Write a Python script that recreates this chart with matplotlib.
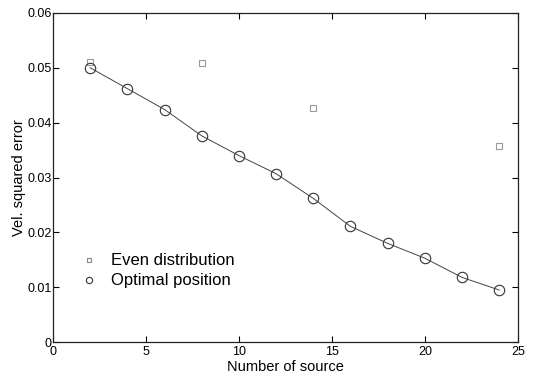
import matplotlib
matplotlib.use("Agg")
import matplotlib.pyplot as plt

plt.rcParams['font.family'] = ['Liberation Sans', 'DejaVu Sans']

n_even = [2, 8, 14, 24]
err_even = [0.0511, 0.0509, 0.0427, 0.0358]
n_opt = [2, 4, 6, 8, 10, 12, 14, 16, 18, 20, 22, 24]
err_opt = [0.0500, 0.0462, 0.0424, 0.0376, 0.0340, 0.0307, 0.0262, 0.0211, 0.0180, 0.0153, 0.0118, 0.0095]

xticks = [0, 5, 10, 15, 20, 25]
yticks = [0, 0.01, 0.02, 0.03, 0.04, 0.05, 0.06]
yticklabels = ['0', '0.01', '0.02', '0.03', '0.04', '0.05', '0.06']

fig = plt.figure(figsize=(5.36, 3.81), dpi=100)
ax = fig.add_axes([0.099, 0.102, 0.867, 0.864])

ax.plot(n_even, err_even, linestyle='none', marker='s', markersize=5,
        markerfacecolor='none', markeredgecolor='#999999', markeredgewidth=0.8)
ax.plot(n_opt, err_opt, color='#444444', linewidth=0.7, marker='o', markersize=7.5,
        markerfacecolor='none', markeredgecolor='#333333', markeredgewidth=0.8)

# legend proxies (markers only, as in the original)
ax.plot([], [], linestyle='none', marker='s', markersize=3.5, markerfacecolor='none',
        markeredgecolor='#888888', markeredgewidth=0.8, label='Even distribution')
ax.plot([], [], linestyle='none', marker='o', markersize=4.5, markerfacecolor='none',
        markeredgecolor='#333333', markeredgewidth=0.8, label='Optimal position')

ax.set_xlim(0, 25)
ax.set_ylim(0, 0.06)
ax.set_xticks(xticks)
ax.set_xticklabels([str(t) for t in xticks])
ax.set_yticks(yticks)
ax.set_yticklabels(yticklabels)
ax.tick_params(direction='in', top=True, right=True, labelsize=9, length=4, width=0.8)
ax.tick_params(axis='y', pad=1)
ax.tick_params(axis='x', pad=3)
for s in ax.spines.values():
    s.set_linewidth(0.9)
    s.set_color('#222222')

ax.set_xlabel('Number of source', fontsize=10.5, labelpad=1)
ax.set_ylabel('Vel. squared error', fontsize=10.5, labelpad=1)

handles, labels = ax.get_legend_handles_labels()
ax.legend(handles, labels, loc='upper left', bbox_to_anchor=(0.045, 0.29), frameon=False,
          fontsize=12, handlelength=1.0, handletextpad=0.85, labelspacing=0.3,
          borderaxespad=0)

fig.savefig('out.png', dpi=100)
